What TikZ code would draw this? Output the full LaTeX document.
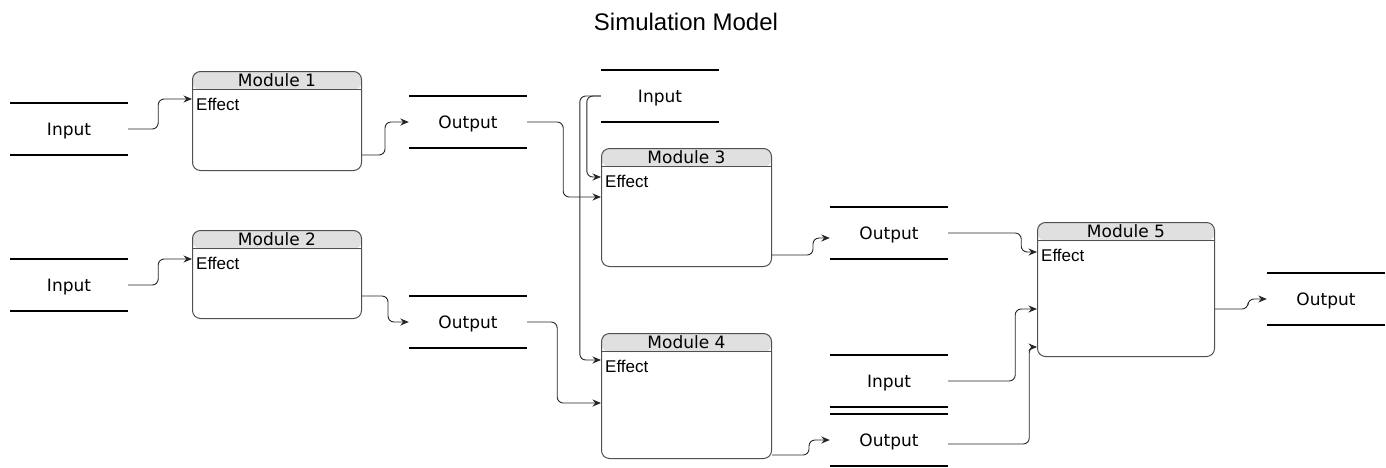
\documentclass[tikz,border=0pt]{standalone}
\usepackage{fontspec}
\setmainfont{DejaVu Sans}
\newfontfamily\helv{Liberation Sans}
\usetikzlibrary{positioning,arrows.meta}

\definecolor{headgray}{HTML}{E0E0E0}
\definecolor{boxline}{HTML}{505050}

\tikzset{
  bar/.style={draw=black, line width=1.8pt},
  io/.style={minimum width=118pt, minimum height=52pt, inner sep=0pt, text depth=0pt,
    font=\fontsize{17}{20}\selectfont,
    append after command={(\tikzlastnode.north west) edge[bar] (\tikzlastnode.north east)
                          (\tikzlastnode.south west) edge[bar] (\tikzlastnode.south east)}},
  module/.style={draw=boxline, line width=1pt, rounded corners=8pt, anchor=north west,
    path picture={\fill[headgray] (path picture bounding box.north west)
                  rectangle ([yshift=-18.5pt]path picture bounding box.north east);}},
  conn/.style={draw=black!85, line width=0.9pt, rounded corners=6pt,
    -{Stealth[length=8.5pt,width=7pt]}},
}

\begin{document}
\begin{tikzpicture}[x=1pt, y=-1pt]
  \useasboundingbox (0,0) rectangle (1386,467);
  \node[font=\helv\fontsize{24}{28}\selectfont] (title) at (686,22) {Simulation Model};

  % modules
  \node[module, minimum width=169pt, minimum height=99pt]  (m1) at (192,71)  {};
  \node[module, minimum width=169pt, minimum height=88pt]  (m2) at (192,230) {};
  \node[module, minimum width=170pt, minimum height=118pt] (m3) at (601,148) {};
  \node[module, minimum width=170pt, minimum height=125pt] (m4) at (601,333) {};
  \node[module, minimum width=177pt, minimum height=134pt] (m5) at (1037,222) {};
  \foreach \m/\t in {m1/Module 1, m2/Module 2, m3/Module 3, m4/Module 4, m5/Module 5} {
    \draw[boxline, line width=1pt] ([yshift=-18.5pt]\m.north west) -- ([yshift=-18.5pt]\m.north east);
    \node[font=\fontsize{17}{20}\selectfont, inner sep=0pt, text depth=0pt] (\m-head)
      at ([yshift=-9.5pt]\m.north) {\t};
    \node[font=\helv\fontsize{17}{20}\selectfont, anchor=base west, inner sep=0pt] (\m-eff)
      at ([xshift=4pt, yshift=-39pt]\m.north west) {Effect};
  }

  % inputs and outputs
  \node[io] (i1) at (69,129)  {Input};
  \node[io] (i2) at (69,285)  {Input};
  \node[io] (i3) at (660,96)  {Input};
  \node[io] (i4) at (889,381) {Input};
  \node[io] (o1) at (468,122) {Output};
  \node[io] (o2) at (468,322) {Output};
  \node[io] (o3) at (889,233) {Output};
  \node[io] (o4) at (889,440) {Output};
  \node[io] (o5) at (1326,299) {Output};

  % connectors
  \draw[conn] (i1.east) -- ++(30,0) |- ([yshift=-28pt]m1.north west);
  \draw[conn] ([yshift=-84pt]m1.north east) -- ++(23,0) |- (o1.west);
  \draw[conn] (i2.east) -- ++(30,0) |- ([yshift=-29pt]m2.north west);
  \draw[conn] ([yshift=-66pt]m2.north east) -- ++(26,0) |- (o2.west);
  \draw[conn] (o1.east) -- ++(36,0) |- ([yshift=-49pt]m3.north west);
  \draw[conn] (i3.west) -- ++(-14,0) |- ([yshift=-29pt]m3.north west);
  \draw[conn] (i3.west) -- ++(-21,0) |- ([yshift=-27pt]m4.north west);
  \draw[conn] (o2.east) -- ++(30,0) |- ([yshift=-70pt]m4.north west);
  \draw[conn] ([yshift=-107pt]m3.north east) -- ++(41,0) |- ([yshift=-5pt]o3.west);
  \draw[conn] ([yshift=-122pt]m4.north east) -- ++(37,0) |- (o4.west);
  \draw[conn] (o3.east) -- ++(73,0) |- ([yshift=-30pt]m5.north west);
  \draw[conn] (i4.east) -- ++(67,0) |- ([yshift=-87pt]m5.north west);
  \draw[conn] ([yshift=-4pt]o4.east) -- ++(81,0) |- ([yshift=-125pt]m5.north west);
  \draw[conn] ([yshift=-87pt]m5.north east) -- ++(33,0) |- (o5.west);
\end{tikzpicture}
\end{document}
